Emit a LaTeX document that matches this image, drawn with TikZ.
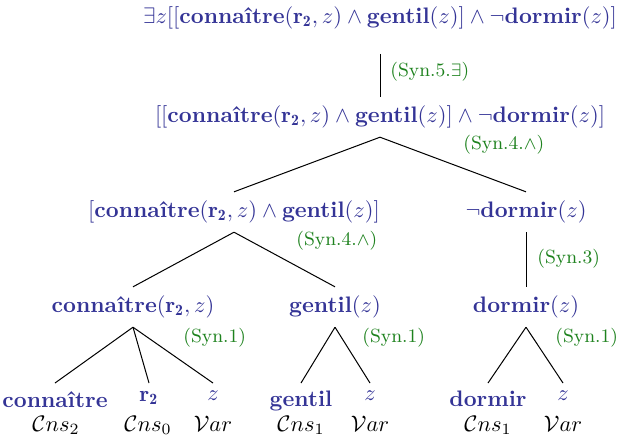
\documentclass[tikz,border=0pt]{standalone}
\usepackage{fontspec}
\definecolor{fblue}{RGB}{52,52,150}
\definecolor{rgreen}{RGB}{30,130,30}
\begin{document}
\begin{tikzpicture}[x=0.4457pt,y=-0.4457pt,
  formula/.style={text=fblue, inner xsep=1pt, inner ysep=4pt, outer sep=0pt},
  leaf/.style={text=fblue, anchor=north, inner xsep=1pt, inner ysep=3.6pt, outer sep=0pt},
  cat/.style={text=black, anchor=base, inner sep=0pt},
  rulelab/.style={text=rgreen, font=\fontsize{8.5}{10}\selectfont, anchor=west, inner sep=0pt},
  edge/.style={draw=black, line width=0.45pt}]
\useasboundingbox (0,0) rectangle (621,441);

% formulas
\node[formula] (top) at (380,18) {$\exists z[[\textbf{connaître}(\mathbf{r_2},z)\wedge\textbf{gentil}(z)]\wedge\neg\textbf{dormir}(z)]$};
\node[formula] (conj) at (380,117) {$[[\textbf{connaître}(\mathbf{r_2},z)\wedge\textbf{gentil}(z)]\wedge\neg\textbf{dormir}(z)]$};
\node[formula] (left) at (234,212) {$[\textbf{connaître}(\mathbf{r_2},z)\wedge\textbf{gentil}(z)]$};
\node[formula] (neg) at (526,212) {$\neg\textbf{dormir}(z)$};
\node[formula] (conn) at (133,307) {$\textbf{connaître}(\mathbf{r_2},z)$};
\node[formula] (gent) at (335,307) {$\textbf{gentil}(z)$};
\node[formula] (dorm) at (526,307) {$\textbf{dormir}(z)$};

% leaves
\node[leaf] (l1) at (55,383) {\textbf{connaître}};
\node[leaf] (l2) at (149,383) {$\mathbf{r_2}$};
\node[leaf] (l3) at (213,383) {$z$};
\node[leaf] (l4) at (301,383) {\textbf{gentil}};
\node[leaf] (l5) at (370,383) {$z$};
\node[leaf] (l6) at (488,383) {\textbf{dormir}};
\node[leaf] (l7) at (563,383) {$z$};
\node[cat] (c1) at (56,431.5) {$\mathcal{C}ns_2$};
\node[cat] (c2) at (148,431.5) {$\mathcal{C}ns_0$};
\node[cat] (c3) at (213,431.5) {$\mathcal{V}ar$};
\node[cat] (c4) at (301,431.5) {$\mathcal{C}ns_1$};
\node[cat] (c5) at (370,431.5) {$\mathcal{V}ar$};
\node[cat] (c6) at (488,431.5) {$\mathcal{C}ns_1$};
\node[cat] (c7) at (563,431.5) {$\mathcal{V}ar$};

% rule labels
\node[rulelab] (r1) at (390,72) {(Syn.5.$\exists$)};
\node[rulelab] (r2) at (463,145) {(Syn.4.$\wedge$)};
\node[rulelab] (r3) at (296,241) {(Syn.4.$\wedge$)};
\node[rulelab] (r4) at (537,259) {(Syn.3)};
\node[rulelab] (r5) at (183,338) {(Syn.1)};
\node[rulelab] (r6) at (362,338) {(Syn.1)};
\node[rulelab] (r7) at (555,338) {(Syn.1)};

% connectors
\draw[edge, shorten <=7pt] (top.south) -- (conj.north);
\draw[edge] (conj.south) -- (left.north);
\draw[edge] (conj.south) -- (neg.north);
\draw[edge] (left.south) -- (conn.north);
\draw[edge] (left.south) -- (gent.north);
\draw[edge] (neg.south) -- (dorm.north);
\draw[edge] (conn.south) -- (l1.north);
\draw[edge] (conn.south) -- (l2.north);
\draw[edge] (conn.south) -- (l3.north);
\draw[edge] (gent.south) -- (l4.north);
\draw[edge] (gent.south) -- (l5.north);
\draw[edge] (dorm.south) -- (l6.north);
\draw[edge] (dorm.south) -- (l7.north);
\end{tikzpicture}
\end{document}
